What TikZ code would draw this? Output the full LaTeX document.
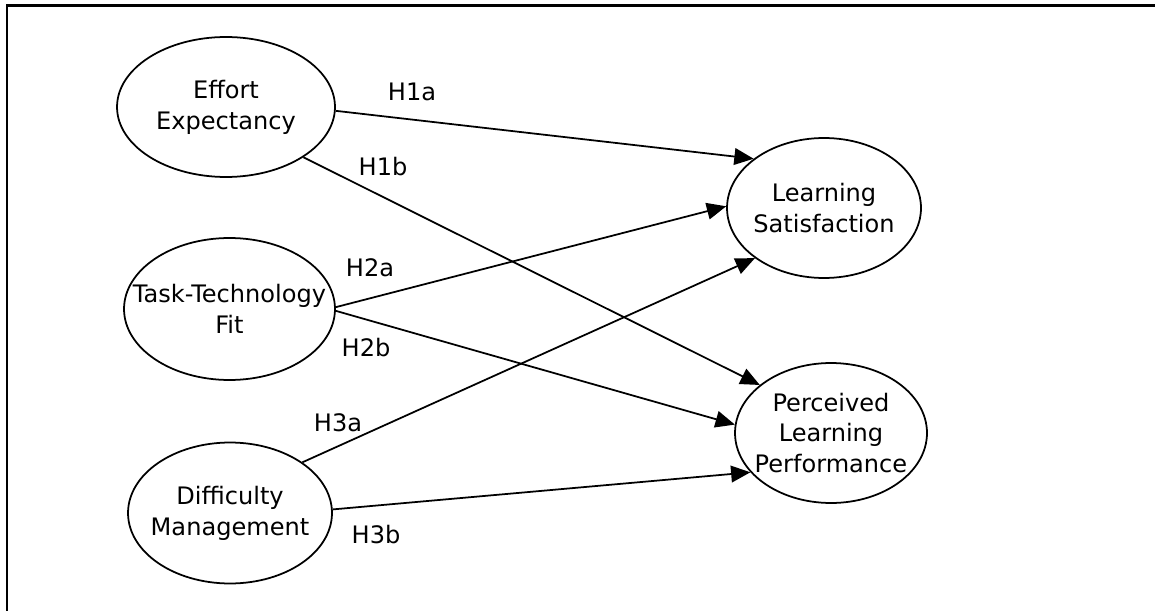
\documentclass[tikz,border=0pt]{standalone}
\usepackage{fontspec}
\setmainfont{DejaVu Sans}
\usetikzlibrary{shapes,arrows.meta,positioning}
\tikzset{
        construct/.style = {draw, ellipse, inner sep=0pt, line width=1pt},
        hyp/.style = {inner sep=0pt},
        arrow/.style = {draw, line width=1pt, -{Triangle[length=11pt, width=9.5pt]}},
    }

\begin{document}
\begin{tikzpicture}[x=0.02cm, y=-0.02cm, font=\fontsize{13.7}{17.5}\selectfont]
  \useasboundingbox (0,0) rectangle (1155,611);
  % frame (top and left edge only)
  \coordinate (tl) at (7,5.5);
  \coordinate (tr) at (1155,5.5);
  \coordinate (bl) at (7,611);
  \draw[line width=1.3pt] (tr) -- (tl) -- (bl);

  % predictors
  \node[construct, minimum width=4.36cm, minimum height=2.8cm,
        label={[align=center]center:Effort\\Expectancy}] (ee) at (226,107) {};
  \node[construct, minimum width=4.22cm, minimum height=2.84cm,
        label={[align=center]center:Task-Technology\\Fit}] (ttf) at (229.5,309) {};
  \node[construct, minimum width=4.08cm, minimum height=2.82cm,
        label={[align=center]center:Difficulty\\Management}] (dm) at (230,513) {};

  % outcomes
  \node[construct, minimum width=3.88cm, minimum height=2.8cm,
        label={[align=center]center:Learning\\Satisfaction}] (ls) at (824,208) {};
  \node[construct, minimum width=3.84cm, minimum height=2.8cm,
        label={[align=center]center:Perceived\\Learning\\Performance}] (plp) at (831,433) {};

  % paths
  \draw[arrow] (ee.-2) -- (ls.145);
  \draw[arrow] (ee.-33) -- (plp.146.5);
  \draw[arrow] (ttf.1) -- (ls.179.4);
  \draw[arrow] (ttf.-1) -- (plp.175);
  \draw[arrow] (dm.35) -- (ls.216.5);
  \draw[arrow] (dm.2) -- (plp.206);

  % hypotheses
  \node[hyp] (h1a) at (412,92) {H1a};
  \node[hyp] (h1b) at (383,167) {H1b};
  \node[hyp] (h2a) at (370,268) {H2a};
  \node[hyp] (h2b) at (366,348) {H2b};
  \node[hyp] (h3a) at (338,423) {H3a};
  \node[hyp] (h3b) at (376,535) {H3b};
\end{tikzpicture}
\end{document}
